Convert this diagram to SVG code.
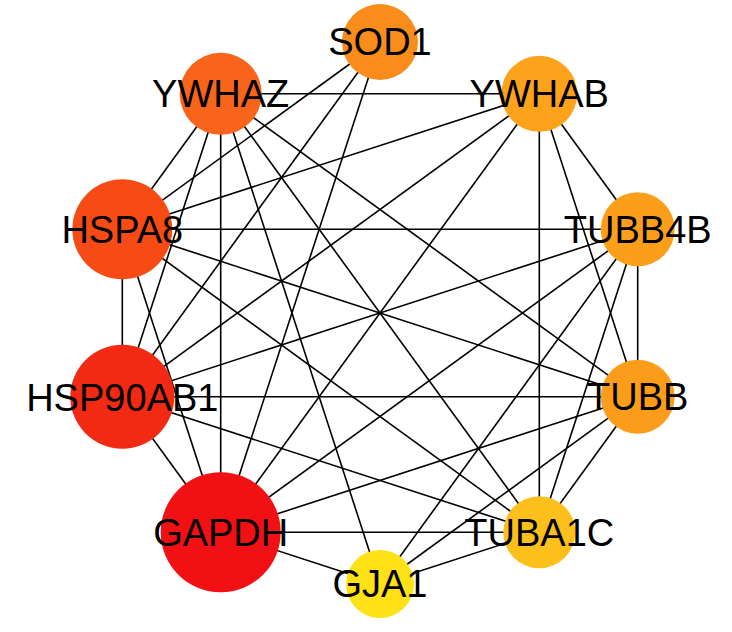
<svg xmlns="http://www.w3.org/2000/svg" width="732" height="632" viewBox="0 0 732 632">
<style>
.e{stroke:#000;stroke-width:1.6;fill:none}
.t{font-family:"Liberation Sans",Arial,sans-serif;font-size:38px;fill:#000;text-anchor:middle}
</style>
<rect width="732" height="632" fill="#fff"/>
<g id="connectors">
<line class="e" x1="220.7" y1="93.8" x2="539.3" y2="93.8"/>
<line class="e" x1="220.7" y1="93.8" x2="122.3" y2="229.3"/>
<line class="e" x1="220.7" y1="93.8" x2="122.3" y2="396.7"/>
<line class="e" x1="220.7" y1="93.8" x2="220.7" y2="532.2"/>
<line class="e" x1="220.7" y1="93.8" x2="380" y2="584"/>
<line class="e" x1="220.7" y1="93.8" x2="539.3" y2="532.2"/>
<line class="e" x1="220.7" y1="93.8" x2="637.7" y2="396.7"/>
<line class="e" x1="380" y1="42" x2="122.3" y2="229.3"/>
<line class="e" x1="380" y1="42" x2="122.3" y2="396.7"/>
<line class="e" x1="380" y1="42" x2="220.7" y2="532.2"/>
<line class="e" x1="539.3" y1="93.8" x2="122.3" y2="229.3"/>
<line class="e" x1="539.3" y1="93.8" x2="122.3" y2="396.7"/>
<line class="e" x1="539.3" y1="93.8" x2="220.7" y2="532.2"/>
<line class="e" x1="539.3" y1="93.8" x2="539.3" y2="532.2"/>
<line class="e" x1="539.3" y1="93.8" x2="637.7" y2="396.7"/>
<line class="e" x1="539.3" y1="93.8" x2="637.7" y2="229.3"/>
<line class="e" x1="637.7" y1="229.3" x2="637.7" y2="396.7"/>
<line class="e" x1="637.7" y1="229.3" x2="122.3" y2="229.3"/>
<line class="e" x1="637.7" y1="229.3" x2="122.3" y2="396.7"/>
<line class="e" x1="637.7" y1="229.3" x2="220.7" y2="532.2"/>
<line class="e" x1="637.7" y1="229.3" x2="380" y2="584"/>
<line class="e" x1="637.7" y1="229.3" x2="539.3" y2="532.2"/>
<line class="e" x1="637.7" y1="396.7" x2="122.3" y2="396.7"/>
<line class="e" x1="637.7" y1="396.7" x2="122.3" y2="229.3"/>
<line class="e" x1="637.7" y1="396.7" x2="220.7" y2="532.2"/>
<line class="e" x1="637.7" y1="396.7" x2="380" y2="584"/>
<line class="e" x1="637.7" y1="396.7" x2="539.3" y2="532.2"/>
<line class="e" x1="539.3" y1="532.2" x2="220.7" y2="532.2"/>
<line class="e" x1="539.3" y1="532.2" x2="380" y2="584"/>
<line class="e" x1="539.3" y1="532.2" x2="122.3" y2="229.3"/>
<line class="e" x1="539.3" y1="532.2" x2="122.3" y2="396.7"/>
<line class="e" x1="380" y1="584" x2="220.7" y2="532.2"/>
<line class="e" x1="220.7" y1="532.2" x2="122.3" y2="396.7"/>
<line class="e" x1="220.7" y1="532.2" x2="122.3" y2="229.3"/>
<line class="e" x1="122.3" y1="229.3" x2="122.3" y2="396.7"/>
</g>
<g id="SOD1"><circle cx="380" cy="42" r="38" fill="#F98C1B"/><text class="t" x="380" y="55">SOD1</text></g>
<g id="YWHAB"><circle cx="539.3" cy="93.8" r="38" fill="#FCA31B"/><text class="t" x="539.3" y="107">YWHAB</text></g>
<g id="TUBB4B"><circle cx="637.7" cy="229.3" r="37" fill="#FB9F1B"/><text class="t" x="637.7" y="242.5">TUBB4B</text></g>
<g id="TUBB"><circle cx="637.7" cy="396.7" r="37" fill="#FB9D1B"/><text class="t" x="637.7" y="410">TUBB</text></g>
<g id="TUBA1C"><circle cx="539.3" cy="532.2" r="36" fill="#FDBF1B"/><text class="t" x="539.3" y="545.5">TUBA1C</text></g>
<g id="GJA1"><circle cx="380" cy="584" r="34" fill="#FEE116"/><text class="t" x="380" y="597">GJA1</text></g>
<g id="GAPDH"><circle cx="220.7" cy="532.2" r="60" fill="#F11014"/><text class="t" x="220.7" y="545.5">GAPDH</text></g>
<g id="HSP90AB1"><circle cx="122.3" cy="396.7" r="52" fill="#F22A13"/><text class="t" x="122.3" y="410.5">HSP90AB1</text></g>
<g id="HSPA8"><circle cx="122.3" cy="229.3" r="50" fill="#F74B16"/><text class="t" x="122.3" y="242.5">HSPA8</text></g>
<g id="YWHAZ"><circle cx="220.7" cy="93.8" r="41" fill="#F7641A"/><text class="t" x="220.7" y="107">YWHAZ</text></g>
</svg>
